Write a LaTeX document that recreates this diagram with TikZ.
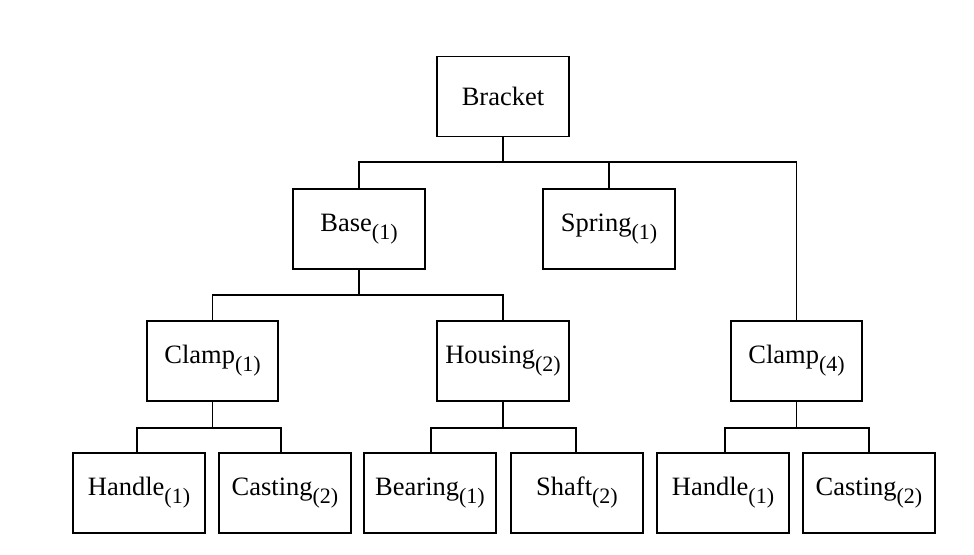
\documentclass[tikz,border=0pt]{standalone}
\usepackage{fontspec}
\setmainfont{Liberation Serif}
\newcommand{\mysb}[1]{\raisebox{-8pt}{\fontsize{22}{24}\selectfont #1}}
\begin{document}
\begin{tikzpicture}[x=1pt,y=1pt,
  box/.style={draw,line width=1.3pt,minimum width=132pt,minimum height=80pt,inner sep=0pt,font=\fontsize{26.5}{30}\selectfont},
  ln/.style={line width=1.3pt}]
\useasboundingbox (0,0) rectangle (974,-554);
\node[box] (br) at (503,-96.5) {Bracket};
\node[box] (base) at (359,-229) {Base\mysb{(1)}};
\node[box] (sp) at (609,-229) {Spring\mysb{(1)}};
\node[box,minimum width=131pt] (c1) at (212.5,-361) {Clamp\mysb{(1)}};
\node[box] (ho) at (503,-361) {Housing\mysb{(2)}};
\node[box,minimum width=131pt] (c4) at (796.5,-361) {Clamp\mysb{(4)}};
\node[box] (h1) at (139,-493) {Handle\mysb{(1)}};
\node[box] (ca1) at (285,-493) {Casting\mysb{(2)}};
\node[box] (be) at (430,-493) {Bearing\mysb{(1)}};
\node[box] (sh) at (577,-493) {Shaft\mysb{(2)}};
\node[box] (h2) at (723,-493) {Handle\mysb{(1)}};
\node[box] (ca2) at (869,-493) {Casting\mysb{(2)}};
% level 1
\coordinate (j1) at (0,-162);
\draw[ln] (br.south) -- (br.south|-j1);
\draw[ln] (base.north) -- (base.north|-j1) -- (c4.north|-j1) -- (c4.north);
\draw[ln] (sp.north) -- (sp.north|-j1);
% level 2
\coordinate (j2) at (0,-295);
\draw[ln] (base.south) -- (base.south|-j2);
\draw[ln] (c1.north) -- (c1.north|-j2) -- (ho.north|-j2) -- (ho.north);
% level 3
\coordinate (j3) at (0,-428);
\coordinate (a1) at (137,-453); \coordinate (a2) at (281,-453);
\coordinate (b1) at (431,-453); \coordinate (b2) at (576,-453);
\coordinate (d1) at (725,-453); \coordinate (d2) at (869,-453);
\draw[ln] (c1.south) -- (c1.south|-j3);
\draw[ln] (a1) -- (a1|-j3) -- (a2|-j3) -- (a2);
\draw[ln] (ho.south) -- (ho.south|-j3);
\draw[ln] (b1) -- (b1|-j3) -- (b2|-j3) -- (b2);
\draw[ln] (c4.south) -- (c4.south|-j3);
\draw[ln] (d1) -- (d1|-j3) -- (d2|-j3) -- (d2);
\end{tikzpicture}
\end{document}
